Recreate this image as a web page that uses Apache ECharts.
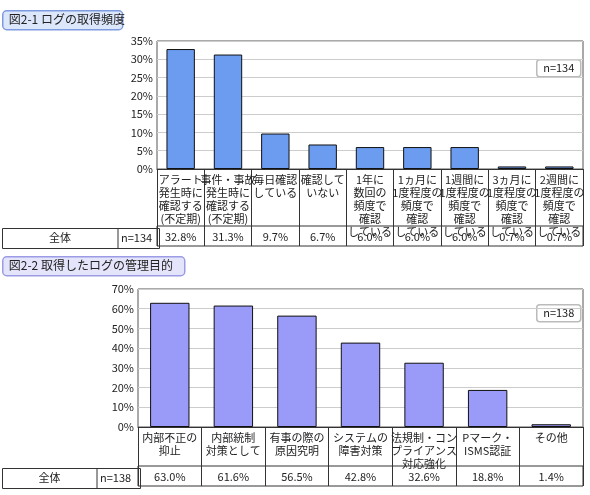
<!DOCTYPE html>
<html><head><meta charset="utf-8">
<script src="https://cdn.jsdelivr.net/npm/echarts@6/dist/echarts.min.js"></script>
<style>body{margin:0;background:#fff}#c{width:590px;height:495px}</style>
</head><body><div id="c"></div>
<script>
var cats1 = ['アラート\n発生時に\n確認する\n(不定期)', '事件・事故\n発生時に\n確認する\n(不定期)', '毎日確認\nしている', '確認して\nいない', '1年に\n数回の\n頻度で\n確認\nしている', '1ヵ月に\n1度程度の\n頻度で\n確認\nしている', '1週間に\n1度程度の\n頻度で\n確認\nしている', '3ヵ月に\n1度程度の\n頻度で\n確認\nしている', '2週間に\n1度程度の\n頻度で\n確認\nしている']
var vals1 = [32.8, 31.3, 9.7, 6.7, 6.0, 6.0, 6.0, 0.7, 0.7]
var cats2 = ['内部不正の\n抑止', '内部統制\n対策として', '有事の際の\n原因究明', 'システムの\n障害対策', '法規制・コン\nプライアンス\n対応強化', 'Pマーク・\nISMS認証', 'その他']
var vals2 = [63.0, 61.6, 56.5, 42.8, 32.6, 18.8, 1.4]
var n1 = 'n=134', n2 = 'n=138'
var font = '"Noto Sans CJK JP"'

var chart = echarts.init(document.getElementById('c'))
function fmt(v) { return v.toFixed(1) + '%' }
function titleBox(x, y, w, text, fill, stroke) {
  return { type: 'group', left: x, top: y, children: [
    { type: 'rect', shape: { x: 0, y: 0, width: w, height: 19, r: 4 }, style: { fill: fill, stroke: stroke, lineWidth: 1.5 } },
    { type: 'text', style: { x: 6, y: 3, text: text, font: '12px ' + font, fill: '#222' } }
  ] }
}
function nBox(x, y, text) {
  return { type: 'group', left: x, top: y, children: [
    { type: 'rect', shape: { x: 0, y: 0, width: 44, height: 17, r: 3 }, style: { fill: '#fff', stroke: '#bbb', lineWidth: 1.5 } },
    { type: 'text', style: { x: 22, y: 3, text: text, align: 'center', font: '11px ' + font, fill: '#222' } }
  ] }
}
function leftCells(y, w1, w2, text) {
  return { type: 'group', left: 0, top: y, children: [
    { type: 'rect', shape: { x: 0.5, y: 0, width: w1 + w2, height: 20 }, style: { fill: 'none', stroke: '#333', lineWidth: 1 } },
    { type: 'line', shape: { x1: w1, y1: 0, x2: w1, y2: 20 }, style: { stroke: '#333' } },
    { type: 'text', style: { x: w1 / 2, y: 4, text: '全体', align: 'center', font: '11px ' + font, fill: '#222' } },
    { type: 'text', style: { x: w1 + 3, y: 4, text: text, font: '11px ' + font, fill: '#222' } }
  ] }
}
var lbl = { fontSize: 11, fontFamily: font, color: '#222' }
function barX(cats, gi) {
  return { type: 'category', gridIndex: gi, data: cats,
    axisLine: { lineStyle: { color: '#333' } },
    axisTick: { show: true, length: gi === 0 ? 57 : 39, lineStyle: { color: '#333' } },
    axisLabel: Object.assign({ interval: 0, margin: 4, lineHeight: 13, verticalAlign: 'top' }, lbl) }
}
function tabX(vals, gi) {
  return { type: 'category', gridIndex: gi, data: vals.map(fmt),
    axisLine: { show: false }, axisTick: { show: false },
    splitLine: { show: true, interval: 0, lineStyle: { color: '#333' } },
    axisLabel: Object.assign({ interval: 0, margin: -15 }, lbl) }
}
function yAx(max, step, gi) {
  return { type: 'value', gridIndex: gi, min: 0, max: max, interval: step,
    axisLine: { show: false }, axisTick: { show: false },
    axisLabel: Object.assign({ formatter: '{value}%', margin: 4 }, lbl),
    splitLine: { lineStyle: { color: '#ccc' } } }
}
function tabY(gi) { return { type: 'value', gridIndex: gi, show: false } }

chart.setOption({
  animation: false,
  grid: [
    { left: 157, right: 7, top: 41, height: 128, show: true, borderColor: '#555', borderWidth: 1 },
    { left: 157, right: 7, top: 226, height: 20, show: true, borderColor: '#333', borderWidth: 1 },
    { left: 138, right: 7, top: 289, height: 138, show: true, borderColor: '#555', borderWidth: 1 },
    { left: 138, right: 7, top: 466, height: 20, show: true, borderColor: '#333', borderWidth: 1 }
  ],
  xAxis: [barX(cats1, 0), tabX(vals1, 1), barX(cats2, 2), tabX(vals2, 3)],
  yAxis: [yAx(35, 5, 0), tabY(1), yAx(70, 10, 2), tabY(3)],
  series: [
    { type: 'bar', xAxisIndex: 0, yAxisIndex: 0, data: vals1, barWidth: '60%',
      itemStyle: { color: '#6c9cf0', borderColor: '#111', borderWidth: 1 } },
    { type: 'bar', xAxisIndex: 2, yAxisIndex: 2, data: vals2, barWidth: '62%',
      itemStyle: { color: '#9a9af8', borderColor: '#111', borderWidth: 1 } }
  ],
  graphic: [
    titleBox(2, 10, 120, '図2-1 ログの取得頻度', '#dde7fb', '#7f9be0'),
    titleBox(2, 256, 182, '図2-2 取得したログの管理目的', '#e4e4fb', '#9c9ce6'),
    nBox(536, 59, n1),
    nBox(536, 304, n2),
    leftCells(226, 116, 41, n1),
    leftCells(466, 95, 43, n2)
  ]
})
</script></body></html>
